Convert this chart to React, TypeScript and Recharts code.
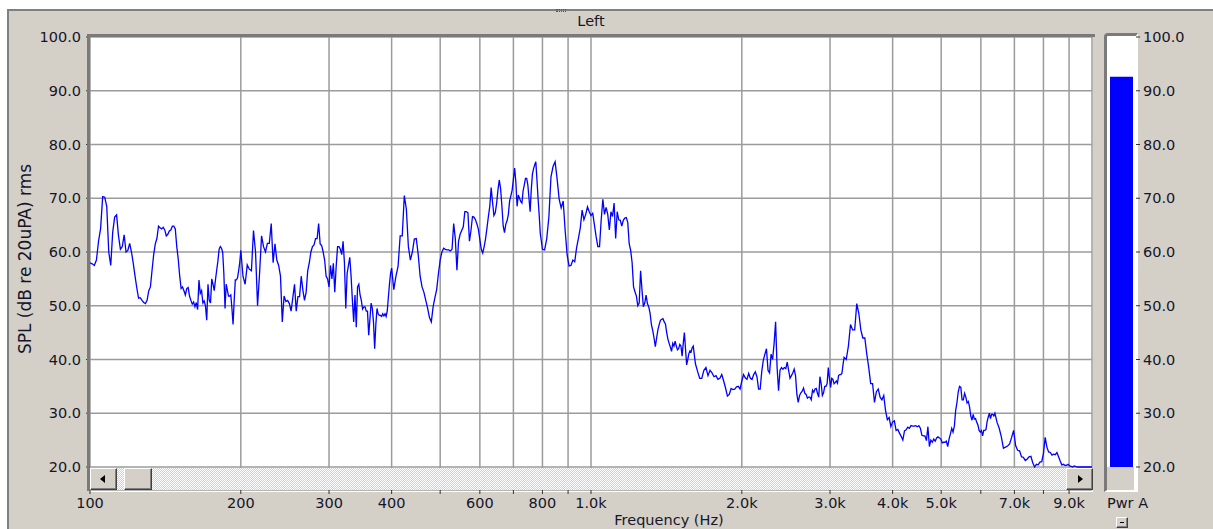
import React from "react";
import { LineChart, Line, XAxis, YAxis, CartesianGrid, BarChart, Bar } from "recharts";

// frequency bins (Hz), 1% steps per octave
const FREQUENCY_HZ = [
  100, 101, 102, 103, 104, 105, 106, 107, 108, 109, 110, 111, 112, 113, 114, 115, 116, 117, 118, 119, 120, 121, 122, 123, 124,
  125, 126, 127, 128, 129, 130, 131, 132, 133, 134, 135, 136, 137, 138, 139, 140, 141, 142, 143, 144, 145, 146, 147, 148, 149,
  150, 151, 152, 153, 154, 155, 156, 157, 158, 159, 160, 161, 162, 163, 164, 165, 166, 167, 168, 169, 170, 171, 172, 173, 174,
  175, 176, 177, 178, 179, 180, 181, 182, 183, 184, 185, 186, 187, 188, 189, 190, 191, 192, 193, 194, 195, 196, 197, 198, 199,
  200, 202, 204, 206, 208, 210, 212, 214, 216, 218, 220, 222, 224, 226, 228, 230, 232, 234, 236, 238, 240, 242, 244, 246, 248,
  250, 252, 254, 256, 258, 260, 262, 264, 266, 268, 270, 272, 274, 276, 278, 280, 282, 284, 286, 288, 290, 292, 294, 296, 298,
  300, 302, 304, 306, 308, 310, 312, 314, 316, 318, 320, 322, 324, 326, 328, 330, 332, 334, 336, 338, 340, 342, 344, 346, 348,
  350, 352, 354, 356, 358, 360, 362, 364, 366, 368, 370, 372, 374, 376, 378, 380, 382, 384, 386, 388, 390, 392, 394, 396, 398,
  400, 404, 408, 412, 416, 420, 424, 428, 432, 436, 440, 444, 448, 452, 456, 460, 464, 468, 472, 476, 480, 484, 488, 492, 496,
  500, 504, 508, 512, 516, 520, 524, 528, 532, 536, 540, 544, 548, 552, 556, 560, 564, 568, 572, 576, 580, 584, 588, 592, 596,
  600, 604, 608, 612, 616, 620, 624, 628, 632, 636, 640, 644, 648, 652, 656, 660, 664, 668, 672, 676, 680, 684, 688, 692, 696,
  700, 704, 708, 712, 716, 720, 724, 728, 732, 736, 740, 744, 748, 752, 756, 760, 764, 768, 772, 776, 780, 784, 788, 792, 796,
  800, 808, 816, 824, 832, 840, 848, 856, 864, 872, 880, 888, 896, 904, 912, 920, 928, 936, 944, 952, 960, 968, 976, 984, 992,
  1000, 1008, 1016, 1024, 1032, 1040, 1048, 1056, 1064, 1072, 1080, 1088, 1096, 1104, 1112, 1120, 1128, 1136, 1144, 1152, 1160, 1168, 1176, 1184, 1192,
  1200, 1208, 1216, 1224, 1232, 1240, 1248, 1256, 1264, 1272, 1280, 1288, 1296, 1304, 1312, 1320, 1328, 1336, 1344, 1352, 1360, 1368, 1376, 1384, 1392,
  1400, 1408, 1416, 1424, 1432, 1440, 1448, 1456, 1464, 1472, 1480, 1488, 1496, 1504, 1512, 1520, 1528, 1536, 1544, 1552, 1560, 1568, 1576, 1584, 1592,
  1600, 1616, 1632, 1648, 1664, 1680, 1696, 1712, 1728, 1744, 1760, 1776, 1792, 1808, 1824, 1840, 1856, 1872, 1888, 1904, 1920, 1936, 1952, 1968, 1984,
  2000, 2016, 2032, 2048, 2064, 2080, 2096, 2112, 2128, 2144, 2160, 2176, 2192, 2208, 2224, 2240, 2256, 2272, 2288, 2304, 2320, 2336, 2352, 2368, 2384,
  2400, 2416, 2432, 2448, 2464, 2480, 2496, 2512, 2528, 2544, 2560, 2576, 2592, 2608, 2624, 2640, 2656, 2672, 2688, 2704, 2720, 2736, 2752, 2768, 2784,
  2800, 2816, 2832, 2848, 2864, 2880, 2896, 2912, 2928, 2944, 2960, 2976, 2992, 3008, 3024, 3040, 3056, 3072, 3088, 3104, 3120, 3136, 3152, 3168, 3184,
  3200, 3232, 3264, 3296, 3328, 3360, 3392, 3424, 3456, 3488, 3520, 3552, 3584, 3616, 3648, 3680, 3712, 3744, 3776, 3808, 3840, 3872, 3904, 3936, 3968,
  4000, 4032, 4064, 4096, 4128, 4160, 4192, 4224, 4256, 4288, 4320, 4352, 4384, 4416, 4448, 4480, 4512, 4544, 4576, 4608, 4640, 4672, 4704, 4736, 4768,
  4800, 4832, 4864, 4896, 4928, 4960, 4992, 5024, 5056, 5088, 5120, 5152, 5184, 5216, 5248, 5280, 5312, 5344, 5376, 5408, 5440, 5472, 5504, 5536, 5568,
  5600, 5632, 5664, 5696, 5728, 5760, 5792, 5824, 5856, 5888, 5920, 5952, 5984, 6016, 6048, 6080, 6112, 6144, 6176, 6208, 6240, 6272, 6304, 6336, 6368,
  6400, 6464, 6528, 6592, 6656, 6720, 6784, 6848, 6912, 6976, 7040, 7104, 7168, 7232, 7296, 7360, 7424, 7488, 7552, 7616, 7680, 7744, 7808, 7872, 7936,
  8000, 8064, 8128, 8192, 8256, 8320, 8384, 8448, 8512, 8576, 8640, 8704, 8768, 8832, 8896, 8960, 9024, 9088, 9152,
  9216, 9344, 9472, 9600, 9728, 9856, 9984, 10000,
];

// SPL of the Left channel, dB re 20uPa
const SPL_LEFT_DB = [
  58.0, 57.8, 57.5, 58.5, 62, 64.4, 70.3, 70.2, 68.5, 60, 57.5, 63.7, 66.5, 66.9, 63, 60.5, 61, 63.2, 60, 60.3, 61.6, 60, 57.9, 55.5, 53.3,
  51.4, 51.5, 51, 50.6, 50.4, 51, 52.8, 53.5, 56.6, 59.5, 61.5, 62.5, 64.8, 64.5, 64.3, 64.6, 64.1, 63, 63.3, 63.9, 64.1, 64.8, 64.8, 64.3, 61,
  58.7, 55.6, 53.2, 53.5, 52.8, 52, 53.2, 53.4, 51.8, 51, 50.3, 50.7, 49.8, 50.6, 49.3, 54.8, 52.3, 52.8, 50.5, 50.9, 50, 47.3, 54, 51, 50.5,
  55, 54, 52.8, 54.8, 56.6, 58.3, 60.5, 61, 60.7, 60, 56, 49.5, 54, 52.9, 51.8, 51.8, 52, 49.5, 46.5, 51, 54.8, 54.8, 55.2, 56.5, 58,
  60.3, 55.5, 54, 57.6, 56.8, 56.5, 64, 60, 50, 56, 63, 61, 60, 61.6, 61.6, 65.3, 58, 61.5, 58.5, 57.5, 55.5, 47, 51.8, 50.8, 51,
  50.4, 49, 51.5, 54, 49, 51.7, 51.7, 55.5, 52.9, 51, 52.5, 56.5, 58, 60, 61, 61.3, 62.5, 62.5, 65.3, 61.5, 61.2, 60, 58.5, 55.5, 55,
  53.5, 57.5, 55, 57.9, 52.5, 57.3, 61, 61, 60.5, 59.5, 62, 58, 49.5, 56, 57.5, 59, 55.5, 51, 47, 52, 46, 53.5, 54, 52, 51,
  49.4, 49.8, 49.8, 49, 49, 44.5, 47.5, 50.5, 49.5, 47, 42, 46.5, 49.5, 48.5, 48.2, 48.2, 48, 48.5, 48.1, 48.5, 48, 49, 51.5, 54, 56,
  57, 53, 55.5, 57.3, 63, 63, 70.5, 68, 61, 58.5, 60, 62.4, 62.5, 59.5, 55.5, 53.5, 52.5, 51, 49.5, 47.8, 47, 49.8, 51.5, 53, 56,
  58.5, 60, 60.7, 60.5, 60.4, 60.4, 60.2, 60.5, 65.3, 62.5, 56.6, 62, 63.3, 64, 64.7, 67.5, 67.5, 67.3, 62, 64, 66.6, 66.5, 66, 65.2, 64.2,
  62.3, 60.5, 59.8, 61, 62.5, 64.5, 66.6, 68.5, 72, 69.3, 66.8, 67.3, 69, 71.5, 73.4, 71.8, 68.5, 64.8, 63.6, 65.2, 65.8, 67, 69.5, 70.5, 71.5,
  73.5, 75.6, 73, 68.5, 70.6, 70, 69.4, 69.1, 71.4, 72.5, 73.7, 73.7, 72.5, 70, 67.5, 71.6, 74.5, 75.5, 76.2, 76.8, 73.5, 70, 67, 63.5, 62,
  60.5, 60.4, 62.5, 66.5, 74, 75.9, 76.8, 73.5, 69.8, 68.2, 69.5, 64, 59.5, 57.4, 57.5, 58.5, 58.2, 60.8, 62.6, 64.5, 67.8, 66, 67, 68.4, 67.5,
  66.8, 67.2, 65, 62.8, 61, 61, 66, 69.8, 67, 68.3, 67, 64.1, 67.5, 66.6, 69.1, 62.5, 67.5, 66, 65.9, 64.8, 65.9, 66.3, 66.4, 65.5, 61.5,
  60.3, 58, 53.5, 52.6, 51.8, 50, 50.5, 56.5, 53, 49.8, 50.5, 52, 50.4, 49.8, 48.6, 46.5, 45.4, 44, 42.4, 44, 45.5, 46.5, 47.3, 47.5, 47.6,
  47, 46.6, 45, 43.8, 43, 42.3, 41.5, 43, 42.5, 43.4, 42.5, 41.8, 42, 42.8, 42.5, 40.6, 43, 45, 42, 39, 40, 41.1, 41.6, 41.4, 42.2,
  42.5, 39.2, 37.8, 36.5, 36.5, 38, 38.5, 37, 38, 37.5, 36.8, 37, 36.3, 36.5, 37.2, 36, 34.7, 33.2, 33.5, 34.6, 34.4, 34.5, 34.9, 35, 34.5,
  36, 37.2, 36.6, 36.3, 37.4, 36.5, 36.3, 37.2, 37.7, 36.8, 34.5, 34.5, 37.8, 39.9, 41, 42, 38, 37.5, 41, 40, 43, 47, 38.5, 34.2, 38,
  38.5, 38.2, 38.5, 38.3, 39.5, 38, 36.5, 37, 37.5, 38.2, 37, 33.5, 32, 33.3, 33.8, 34.1, 34.7, 33.7, 33.5, 32.8, 33, 33, 32.5, 34.3, 33.9,
  34.5, 34.6, 33.7, 33, 36.8, 35.5, 33.3, 33.8, 35, 35, 35.5, 38.5, 36.5, 34.8, 36.5, 36.3, 35.5, 35.7, 36, 35.6, 37, 37.2, 37.2, 37.4, 39,
  40.4, 40, 42.5, 46.5, 45.5, 45.5, 50.4, 48.6, 45.5, 44, 44, 41, 38.5, 35.5, 35.5, 32, 34, 34.5, 33, 32.5, 33.3, 30.5, 28.8, 29.2, 27.5,
  28.4, 28.6, 26.8, 27, 26.3, 25.7, 25, 26.7, 26.9, 27.4, 27.2, 27.7, 27.6, 27.6, 27.7, 27.5, 27.7, 27.2, 25.9, 25.8, 25.8, 24.9, 27.5, 23.8, 25,
  24.6, 25.2, 24.8, 25.4, 25.6, 25.4, 25.2, 24.5, 24.6, 24.6, 24.8, 23.8, 25.2, 26.1, 27.2, 26.5, 27.6, 30.5, 32, 34, 35, 34.8, 32.5, 32.5, 33.7,
  33, 31.9, 32.2, 31.2, 29.5, 28.7, 29.8, 28.9, 29, 28.3, 27.8, 26.8, 26.5, 26.8, 25.8, 26.8, 26.8, 27, 28.5, 29.3, 30, 29, 29.8, 29.8, 29.5,
  30, 28.3, 27.2, 25.6, 23.5, 23.7, 23.9, 24.3, 25.5, 26.8, 24, 23.1, 23, 21.9, 21.8, 21.2, 21.5, 21.9, 22, 20.8, 20, 20.5, 20.4, 20.9, 21,
  22.5, 25.5, 23.7, 22.8, 22.7, 22.2, 22.4, 22.3, 22.7, 21.9, 21.1, 20.4, 20.5, 20.3, 20.3, 20.5, 20.2, 20.1, 20,
  20.2, 20, 20, 20, 20, 20, 20, 20,
];

const FREQ_TICKS = [100, 200, 300, 400, 500, 600, 700, 800, 900, 1000, 2000, 3000, 4000, 5000, 6000, 7000, 8000, 9000];
const FREQ_TICK_LABELS = ["100", "200", "300", "400", "", "600", "", "800", "", "1.0k", "2.0k", "3.0k", "4.0k", "5.0k", "", "7.0k", "", "9.0k"];
const SPL_TICKS = [20, 30, 40, 50, 60, 70, 80, 90, 100];

const METER_CHANNELS = ["Pwr A"];
const METER_LEVELS_DB = [92.6];

const FONT = '"DejaVu Sans", Verdana, sans-serif';
const TXT = "#15152a";
const PANEL = "#d4d0c8";
const GRID = "#9b9b9b";
const EDGE = "#7a7a7a";
// plot is extended a little below 20 dB, the scroll bar hides that strip
const Y_DOMAIN: [number, number] = [15.72, 100];

const rows = FREQUENCY_HZ.map((hz, i) => ({ hz, spl: SPL_LEFT_DB[i] }));
const meterRows = METER_CHANNELS.map((name, i) => ({ name, level: METER_LEVELS_DB[i] }));

const tickStyle = { fill: TXT, fontSize: 14.5, fontFamily: FONT };

const abs = (left: number, top: number, width: number, height: number, extra: React.CSSProperties = {}): React.CSSProperties => ({
  position: "absolute",
  left,
  top,
  width,
  height,
  boxSizing: "border-box",
  ...extra,
});

const raised: React.CSSProperties = {
  background: PANEL,
  borderTop: "1px solid #fff",
  borderLeft: "1px solid #fff",
  borderRight: "1px solid #404040",
  borderBottom: "1px solid #404040",
  boxShadow: "inset -1px -1px #808080",
};

function MeterTick(props: any) {
  const { x, y, payload } = props;
  return (
    <text x={x + 6} y={y} dy="0.71em" textAnchor="middle" fill={TXT} fontSize={14.5} fontFamily={FONT}>
      {payload.value}
    </text>
  );
}

function ScrollBar() {
  return (
    <>
      <div
        style={abs(90, 468, 1003, 22, {
          background: `repeating-conic-gradient(${PANEL} 0% 25%, #ffffff 0% 50%) 0 0 / 2px 2px`,
        })}
      />
      <div style={abs(90, 468, 27, 22, raised)}>
        <div style={abs(9, 6, 0, 0, { borderTop: "4px solid transparent", borderBottom: "4px solid transparent", borderRight: "5px solid #000" })} />
      </div>
      <div style={abs(124, 468, 28, 22, raised)} />
      <div style={abs(1066, 468, 27, 22, raised)}>
        <div style={abs(11, 6, 0, 0, { borderTop: "4px solid transparent", borderBottom: "4px solid transparent", borderLeft: "5px solid #000" })} />
      </div>
    </>
  );
}

export default function App() {
  const text: React.CSSProperties = { fontFamily: FONT, fontSize: 14.5, color: TXT, whiteSpace: "nowrap", lineHeight: "17px" };
  return (
    <div style={abs(0, 0, 1213, 529, { background: "#fff", overflow: "hidden" })}>
      <div style={abs(7, 9, 1206, 520, { background: PANEL, borderTop: "2px solid #808080", borderLeft: "2px solid #808080" })} />
      <div style={abs(556, 9, 10, 3, { borderTop: "1px dotted #555", borderBottom: "1px dotted #555" })} />
      <div style={abs(90, 37, 1003, 455, { background: "#fff" })} />
      <div
        style={abs(1104, 33, 34, 459, {
          background: "#fff",
          borderTop: `3px solid ${EDGE}`,
          borderLeft: `3px solid ${EDGE}`,
          borderRight: "2px solid #fff",
          borderBottom: "2px solid #fff",
          borderTopLeftRadius: 4,
        })}
      />

      <div style={abs(0, 0, 1213, 529)}>
        <LineChart width={1213} height={529} data={rows} margin={{ top: 37, right: 121, bottom: 9, left: 30 }}>
          <CartesianGrid stroke={GRID} strokeWidth={1.5} />
          <XAxis
            dataKey="hz"
            type="number"
            scale="log"
            domain={[100, 10000]}
            ticks={FREQ_TICKS}
            interval={0}
            allowDataOverflow
            tickFormatter={(v: number) => FREQ_TICK_LABELS[FREQ_TICKS.indexOf(v)] ?? ""}
            axisLine={false}
            tickLine={{ stroke: "#333" }}
            tickSize={4}
            tickMargin={4}
            height={30}
            tick={tickStyle}
          />
          <YAxis
            type="number"
            domain={Y_DOMAIN}
            ticks={SPL_TICKS}
            interval={0}
            allowDataOverflow
            tickFormatter={(v: number) => v.toFixed(1)}
            axisLine={false}
            tickLine={{ stroke: "#333" }}
            tickSize={4}
            tickMargin={5}
            width={60}
            tick={tickStyle}
          />
          <Line type="linear" dataKey="spl" stroke="#0000ff" strokeWidth={1.3} dot={false} isAnimationActive={false} />
        </LineChart>
      </div>

      <div style={abs(1100, 0, 113, 529)}>
        <BarChart width={113} height={529} data={meterRows} margin={{ top: 37, right: 0, bottom: 9, left: 7 }} barCategoryGap={3}>
          <XAxis dataKey="name" axisLine={false} tickLine={false} tickSize={4} tickMargin={4} height={30} interval={0} tick={<MeterTick />} />
          <YAxis
            orientation="right"
            type="number"
            domain={Y_DOMAIN}
            ticks={SPL_TICKS}
            interval={0}
            allowDataOverflow
            tickFormatter={(v: number) => v.toFixed(1)}
            axisLine={false}
            tickLine={{ stroke: "#333" }}
            tickSize={4}
            tickMargin={3}
            width={77}
            tick={tickStyle}
          />
          <Bar dataKey="level" fill="#0000ff" isAnimationActive={false} />
        </BarChart>
      </div>

      <div style={abs(1107, 467, 27, 23, { background: PANEL })} />
      <div style={abs(1116, 517, 12, 11, raised)}>
        <div style={abs(3, 4, 4, 1, { background: "#000" })} />
      </div>

      <div style={abs(87, 34, 1008, 3, { background: EDGE })} />
      <div style={abs(87, 34, 3, 457, { background: EDGE })} />
      <ScrollBar />

      <div style={{ ...text, position: "absolute", left: 591, top: 13, transform: "translateX(-50%)" }}>Left</div>
      <div style={{ ...text, position: "absolute", left: 669, top: 512, transform: "translateX(-50%)" }}>Frequency (Hz)</div>
      <div
        style={{ ...text, fontSize: 17, lineHeight: "20px", position: "absolute", left: 25, top: 259, transform: "translate(-50%, -50%) rotate(-90deg)" }}
      >
        SPL (dB re 20uPA) rms
      </div>
    </div>
  );
}
